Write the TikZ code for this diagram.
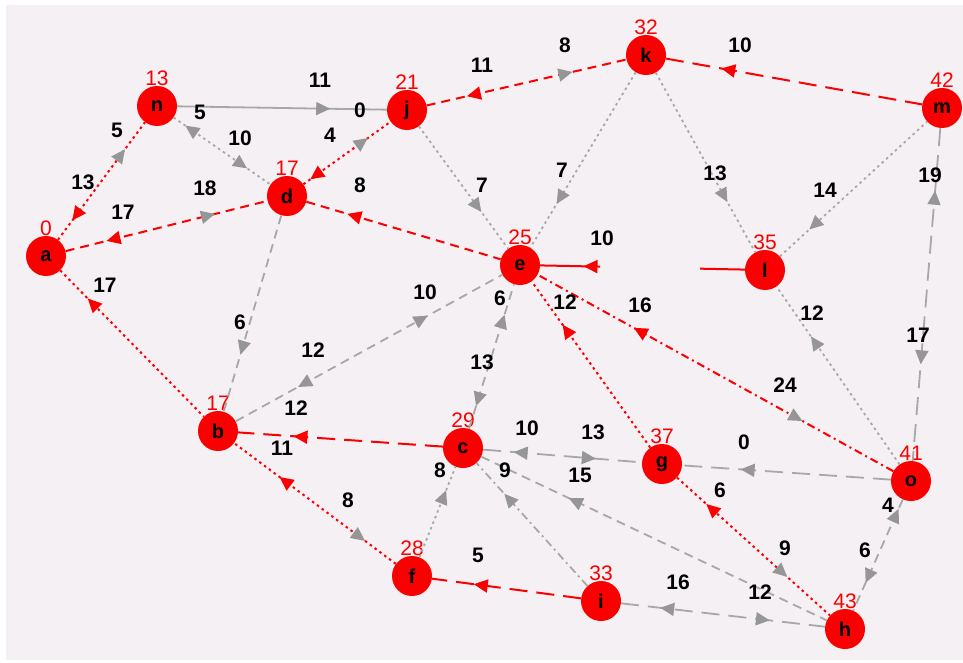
\documentclass[tikz,border=0pt]{standalone}
\usepackage{fontspec}
\setmainfont{Liberation Sans}
\usetikzlibrary{arrows.meta,decorations.markings}
\definecolor{nodered}{RGB}{250,0,0}
\definecolor{edgegray}{RGB}{168,168,168}
\definecolor{tipgray}{RGB}{150,150,150}
\definecolor{bgpink}{RGB}{245,240,243}
\tikzset{
  vtx/.style={circle, fill=nodered, minimum size=40pt, inner sep=0pt, font=\fontsize{20}{20}\selectfont\bfseries},
  dist/.style={text=nodered, font=\fontsize{21}{21}\selectfont, inner sep=0pt},
  wt/.style={font=\fontsize{21}{21}\selectfont\bfseries, inner sep=0pt},
  tree/.style={draw=nodered, line width=2pt},
  gen/.style={draw=edgegray, line width=1.8pt},
  dsh/.style={dash pattern=on 9pt off 6pt},
  lds/.style={dash pattern=on 18pt off 9pt},
  dtt/.style={dash pattern=on 2.5pt off 3.5pt},
  dsd/.style={dash pattern=on 8pt off 4pt on 2pt off 4pt},
  fw/.style 2 args={postaction={decorate,decoration={markings,
      mark=at position #1 with {\arrow{Triangle[length=14pt,width=13pt,color=#2]}}}}},
  bw/.style 2 args={postaction={decorate,decoration={markings,
      mark=at position #1 with {\arrow{Triangle[reversed,length=14pt,width=13pt,color=#2]}}}}}
}
\begin{document}
\begin{tikzpicture}[x=1pt, y=-1pt]
  \useasboundingbox (0,0) rectangle (963,663);
  \fill[bgpink] (6,5) rectangle (963,660);

  \node[vtx, label={[dist]above:0}]  (a) at (46,256)  {a};
  \node[vtx, label={[dist]above:13}] (n) at (157,106) {n};
  \node[vtx, label={[dist]above:21}] (j) at (407,110) {j};
  \node[vtx, label={[dist]above:17}] (d) at (287,196) {d};
  \node[vtx, label={[dist]above:32}] (k) at (646,55)  {k};
  \node[vtx, label={[dist]above:42}] (m) at (942,108) {m};
  \node[vtx, label={[dist]above:25}] (e) at (520,265) {e};
  \node[vtx, label={[dist]above:35}] (l) at (765,270) {l};
  \node[vtx, label={[dist]above:17}] (b) at (218,431) {b};
  \node[vtx, label={[dist]above:29}] (c) at (463,448) {c};
  \node[vtx, label={[dist]above:37}] (g) at (662,464) {g};
  \node[vtx, label={[dist]above:41}] (o) at (911,481) {o};
  \node[vtx, label={[dist]above:28}] (f) at (412,576) {f};
  \node[vtx, label={[dist]above:33}] (i) at (601,601) {i};
  \node[vtx, label={[dist]above:43}] (h) at (845,629) {h};

  \draw[tree, dtt, bw={0.26}{nodered}, fw={0.77}{tipgray}] (a) -- (n);
  \draw[tree, dsh, bw={0.27}{nodered}, fw={0.74}{tipgray}] (a) -- (d);
  \draw[tree, dtt, bw={0.26}{nodered}] (a) -- (b);
  \draw[gen, fw={0.73}{tipgray}] (n) -- (j);
  \draw[gen, dtt, bw={0.24}{tipgray}, fw={0.76}{tipgray}] (n) -- (d);
  \draw[tree, dtt, bw={0.21}{nodered}, fw={0.74}{tipgray}] (d) -- (j);
  \draw[tree, dsh, bw={0.27}{nodered}, fw={0.73}{tipgray}] (j) -- (k);
  \draw[tree, lds, bw={0.27}{nodered}] (k) -- (m);
  \draw[gen, dtt, fw={0.70}{tipgray}] (j) -- (e);
  \draw[gen, dtt, fw={0.75}{tipgray}] (k) -- (e);
  \draw[gen, dtt, fw={0.72}{tipgray}] (k) -- (l);
  \draw[gen, dtt, bw={0.27}{tipgray}] (l) -- (m);
  \draw[gen, lds, bw={0.23}{tipgray}, fw={0.71}{tipgray}] (m) -- (o);
  \draw[tree, dsh, bw={0.28}{nodered}] (d) -- (e);
  \draw[tree, dash pattern=on 60pt off 100pt, bw={0.28}{nodered}] (e) -- (l);
  \draw[gen, dsh, fw={0.71}{tipgray}] (d) -- (b);
  \draw[gen, dsh, bw={0.28}{tipgray}, fw={0.72}{tipgray}] (b) -- (e);
  \draw[gen, dsh, bw={0.25}{tipgray}, fw={0.79}{tipgray}] (c) -- (e);
  \draw[tree, dtt, fw={0.74}{nodered}] (g) -- (e);
  \draw[tree, dsd, fw={0.73}{nodered}, bw={0.29}{tipgray}] (o) -- (e);
  \draw[gen, dtt, fw={0.72}{tipgray}] (o) -- (l);
  \draw[tree, lds, fw={0.73}{nodered}] (c) -- (b);
  \draw[tree, dtt, fw={0.72}{nodered}, bw={0.26}{tipgray}] (f) -- (b);
  \draw[gen, dtt, fw={0.74}{tipgray}] (f) -- (c);
  \draw[tree, lds, fw={0.72}{nodered}] (i) -- (f);
  \draw[gen, dsd, fw={0.75}{tipgray}] (i) -- (c);
  \draw[gen, lds, bw={0.28}{tipgray}, fw={0.71}{tipgray}] (c) -- (g);
  \draw[gen, dsh, bw={0.29}{tipgray}] (c) -- (h);
  \draw[tree, dtt, bw={0.26}{nodered}, fw={0.72}{tipgray}] (g) -- (h);
  \draw[gen, lds, fw={0.72}{tipgray}] (o) -- (g);
  \draw[gen, lds, bw={0.26}{tipgray}, fw={0.73}{tipgray}] (i) -- (h);
  \draw[gen, dsh, bw={0.20}{tipgray}, fw={0.75}{tipgray}] (o) -- (h);

  \node[wt] (an1) at (83,182)  {13};
  \node[wt] (an2) at (117,130) {5};
  \node[wt] (ad1) at (123,212) {17};
  \node[wt] (ad2) at (205,188) {18};
  \node[wt] (ab1) at (105,285) {17};
  \node[wt] (nj1) at (320,80)  {11};
  \node[wt] (nd1) at (200,112) {5};
  \node[wt] (nd2) at (240,138) {10};
  \node[wt] (dj1) at (330,135) {4};
  \node[wt] (dj2) at (360,110) {0};
  \node[wt] (jk1) at (482,65)  {11};
  \node[wt] (jk2) at (565,45)  {8};
  \node[wt] (km1) at (740,45)  {10};
  \node[wt] (je1) at (482,185) {7};
  \node[wt] (ke1) at (562,170) {7};
  \node[wt] (kl1) at (715,173) {13};
  \node[wt] (lm1) at (825,190) {14};
  \node[wt] (mo1) at (930,175) {19};
  \node[wt] (mo2) at (918,335) {17};
  \node[wt] (de1) at (360,185) {8};
  \node[wt] (el1) at (602,238) {10};
  \node[wt] (db1) at (240,322) {6};
  \node[wt] (be1) at (313,350) {12};
  \node[wt] (be2) at (425,292) {10};
  \node[wt] (ce1) at (500,298) {6};
  \node[wt] (ce2) at (482,362) {13};
  \node[wt] (ge1) at (565,302) {12};
  \node[wt] (oe1) at (640,305) {16};
  \node[wt] (oe2) at (785,385) {24};
  \node[wt] (ol1) at (812,313) {12};
  \node[wt] (cb1) at (296,408) {12};
  \node[wt] (fb1) at (282,448) {11};
  \node[wt] (fb2) at (348,500) {8};
  \node[wt] (fc1) at (440,470) {8};
  \node[wt] (if1) at (478,555) {5};
  \node[wt] (ic1) at (505,470) {9};
  \node[wt] (cg1) at (527,428) {10};
  \node[wt] (cg2) at (593,432) {13};
  \node[wt] (ch1) at (580,475) {15};
  \node[wt] (gh1) at (720,490) {6};
  \node[wt] (gh2) at (785,548) {9};
  \node[wt] (og1) at (744,442) {0};
  \node[wt] (ih1) at (678,582) {16};
  \node[wt] (ih2) at (760,592) {12};
  \node[wt] (oh1) at (888,505) {4};
  \node[wt] (oh2) at (865,550) {6};
\end{tikzpicture}
\end{document}
